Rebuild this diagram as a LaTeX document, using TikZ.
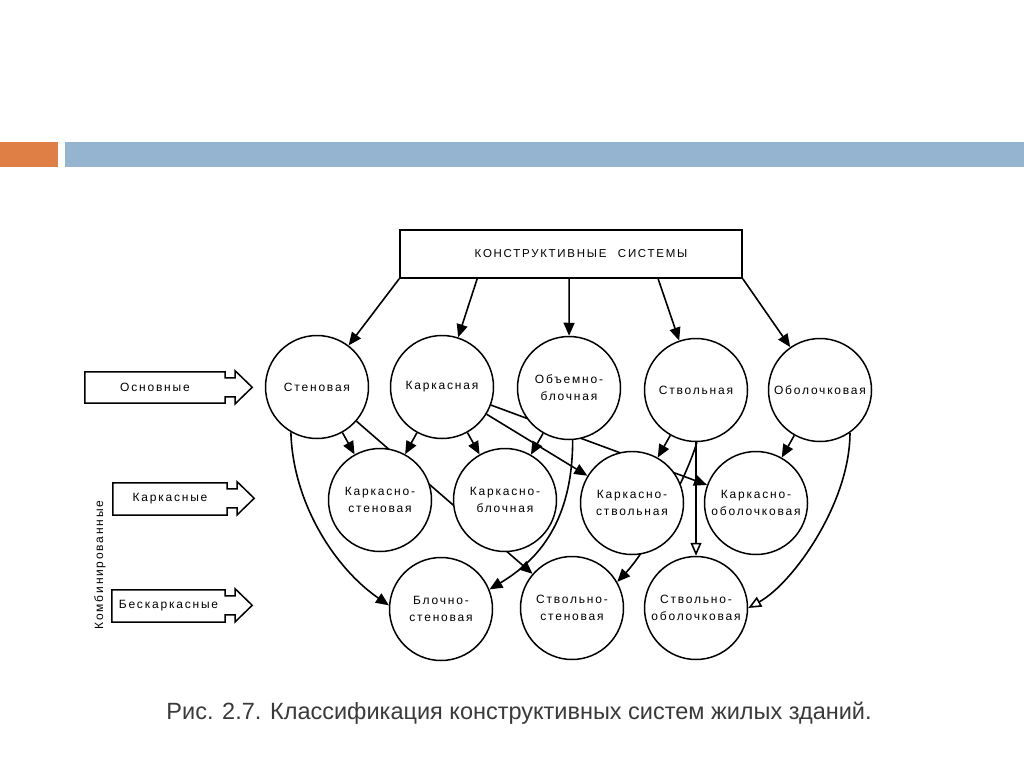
\documentclass[tikz,border=0pt]{standalone}
\usepackage{fontspec}
\setmainfont{Liberation Sans}
\newfontfamily\diagfont[LetterSpace=15]{Liberation Sans}
\newfontfamily\capfont{Liberation Sans}
\usetikzlibrary{arrows.meta}
\pgfdeclarelayer{back}
\pgfdeclarelayer{bg}
\pgfsetlayers{back,bg,main}
\definecolor{barorange}{HTML}{E07F45}
\definecolor{barblue}{HTML}{94B4D0}
\definecolor{captext}{HTML}{3A3A3A}
\begin{document}
\begin{tikzpicture}[x=1pt,y=-1pt,
  circ/.style={circle,draw,line width=1.5pt,fill=white,minimum size=103pt,inner sep=0pt,align=center,font=\diagfont\fontsize{12}{17}\selectfont},
  topbox/.style={draw,line width=1.7pt,fill=white,minimum width=342pt,minimum height=48pt,inner sep=0pt,font=\diagfont\fontsize{11.5}{13}\selectfont},
  lbl/.style={inner sep=0pt,font=\diagfont\fontsize{12}{14}\selectfont},
  blk/.style={draw,line width=1.5pt,line join=miter},
  conn/.style={line width=1.6pt,-{Triangle[length=13pt,width=11pt]}},
  oconn/.style={line width=1.6pt,-{Triangle[open,fill=white,length=13pt,width=11pt]}}]
\useasboundingbox (0,0) rectangle (1024,767);
\begin{pgfonlayer}{back}
\fill[white] (0,0) rectangle (1024,767);
\end{pgfonlayer}
% header bars
\fill[barorange] (0,142) rectangle (58,167);
\fill[barblue] (65,142) rectangle (1024,167);

% top box
\node[topbox] (top) at (571,254) {\hspace*{20pt}КОНСТРУКТИВНЫЕ\quad СИСТЕМЫ};

% circles
\node[circ] (c11) at (317,387) {Стеновая};
\node[circ] (c12) at (442,387) {Каркасная};
\node[circ] (c13) at (569,388) {Объемно-\\блочная};
\node[circ] (c14) at (696,390) {Ствольная};
\node[circ] (c15) at (820,390) {Оболочковая};
\node[circ] (c21) at (380,500) {Каркасно-\\стеновая};
\node[circ] (c22) at (505,500) {Каркасно-\\блочная};
\node[circ] (c23) at (632,503) {Каркасно-\\ствольная};
\node[circ] (c24) at (756,503) {Каркасно-\\оболочковая};
\node[circ] (c31) at (441,609) {Блочно-\\стеновая};
\node[circ] (c32) at (572,608) {Ствольно-\\стеновая};
\node[circ] (c33) at (696,608) {Ствольно-\\оболочковая};

% left labels with block arrows
\node[lbl,minimum width=140pt,minimum height=31pt] (l1) at (155,387.5) {Основные};
\node[lbl,minimum width=114pt,minimum height=32pt] (l2) at (170,499) {Каркасные};
\node[lbl,minimum width=113pt,minimum height=32pt] (l3) at (168.5,606) {Бескаркасные};
\foreach \n in {l1,l2,l3}{
  \draw[blk] (\n.north west) -- (\n.north east) -- ++(0,6) -- ++(10,0) -- ++(0,-7)
    -- ++(17,16.5) -- ++(-17,16.5) -- ++(0,-7) -- ++(-10,0) -- (\n.south east)
    -- (\n.south west) -- cycle;
}
\node[lbl,rotate=90] (komb) at (100,565) {Комбинированные};

% caption
\node[font=\capfont\fontsize{23.5}{28}\selectfont,text=captext,inner sep=0pt] (cap) at (519,713) {Рис. 2.7. Классификация конструктивных систем жилых зданий.};

\begin{pgfonlayer}{bg}
% from top box
\draw[conn] (top.south west) -- (c11);
\draw[conn] ([xshift=78pt]top.south west) -- (c12);
\draw[conn] ([xshift=170pt]top.south west) -- (c13);
\draw[conn] ([xshift=259pt]top.south west) -- (c14);
\draw[conn] (top.south east) -- (c15);
% row 1 to row 2
\draw[conn] (c11) -- (c21);
\draw[conn] (c12) -- (c21);
\draw[conn] (c12) -- (c22);
\draw[conn] (c13) -- (c22);
\draw[conn] (c12) -- (c23);
\draw[conn] (c14) -- (c23);
\draw[conn] (c12) -- (c24);
\draw[conn] (c15) -- (c24);
% to row 3
\draw[conn] (c11) -- (c32);
\draw[conn] (c11.240) .. controls +(2,70) and +(-55,-38) .. (c31.176);
\draw[conn] (c13.274) .. controls +(0,80) and +(50,-30) .. (c31.22);
\draw[conn] (c14.271) .. controls +(-12,40) and +(30,-32) .. (c32.30);
\draw[oconn] (c14) -- (c33);
\draw[oconn] (c15.305) .. controls +(0,70) and +(45,-25) .. (c33.0);
\end{pgfonlayer}
\end{tikzpicture}
\end{document}
